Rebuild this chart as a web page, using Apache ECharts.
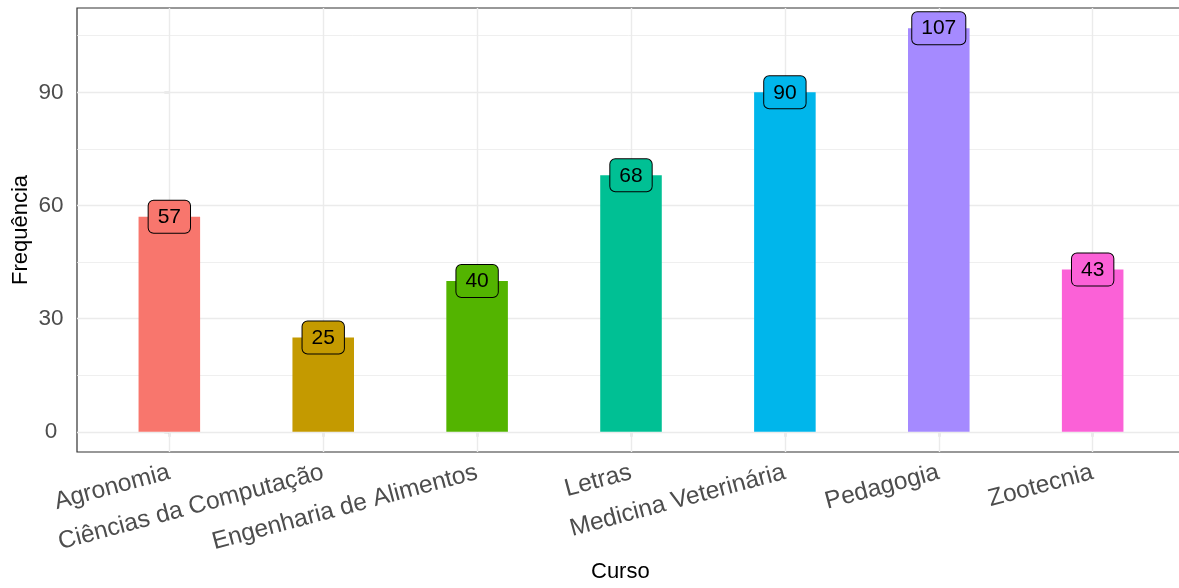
<!DOCTYPE html>
<html>
<head>
<meta charset="utf-8">
<script src="https://cdn.jsdelivr.net/npm/echarts@6/dist/echarts.min.js"></script>
<style>html,body{margin:0;padding:0;background:#fff}#c{width:1179px;height:588px}</style>
</head>
<body>
<div id="c"></div>
<script>
const categories = ['Agronomia','Ciências da Computação','Engenharia de Alimentos','Letras','Medicina Veterinária','Pedagogia','Zootecnia'];
const frequencies = [57, 25, 40, 68, 90, 107, 43];
const barColors = ['#F8766D','#C49A00','#53B400','#00C094','#00B6EB','#A58AFF','#FB61D7'];
const yTicks = [0, 30, 60, 90];
const yMinor = [15, 45, 75, 105];
const xTitle = 'Curso';
const yTitle = 'Frequência';

const FONT = "'Liberation Sans', Arial, Helvetica, sans-serif";
const G = {left: 77, top: 8, width: 1108, height: 444};
const xMin = -0.6, xMax = categories.length - 1 + 0.6;
const unitPx = G.width / (xMax - xMin);
const yMin = -0.05 * 107, yMax = 107 * 1.05;

const catIdx = categories.map((c, i) => i);

const chart = echarts.init(document.getElementById('c'), null, {renderer: 'canvas'});
chart.setOption({
  animation: false,
  backgroundColor: '#fff',
  textStyle: {fontFamily: FONT},
  grid: Object.assign({show: true, borderColor: '#333', borderWidth: 1.2, backgroundColor: '#fff', containLabel: false, outerBoundsMode: 'none'}, G),
  xAxis: {
    type: 'value', min: xMin, max: xMax,
    axisLine: {show: false},
    splitLine: {show: false},
    axisTick: {show: true, length: 5, customValues: catIdx, lineStyle: {color: '#333', width: 1.2}},
    axisLabel: {
      customValues: catIdx, rotate: 15, margin: 20, fontSize: 24.5, color: '#4D4D4D', fontFamily: FONT,
      formatter: v => { const r = Math.round(v); return (Math.abs(v - r) < 1e-6 && r >= 0 && r < categories.length) ? categories[r] : ''; }
    }
  },
  yAxis: {
    type: 'value', min: yMin, max: yMax,
    axisLine: {show: false},
    splitLine: {show: false},
    axisTick: {show: true, length: 5, customValues: yTicks, lineStyle: {color: '#333', width: 1.2}},
    axisLabel: {
      customValues: yTicks, margin: 26, align: 'center', fontSize: 22.5, color: '#4D4D4D', fontFamily: FONT,
      formatter: v => (yTicks.indexOf(Math.round(v)) >= 0 && Math.abs(v - Math.round(v)) < 1e-6) ? String(Math.round(v)) : ''
    }
  },
  graphic: [
    {type: 'text', left: 631 - 40, top: 561, style: {text: xTitle, font: '22px ' + FONT, fill: '#000'}, z: 10},
    {type: 'text', x: 10, y: 230, rotation: Math.PI / 2, style: {text: yTitle, font: '22px ' + FONT, fill: '#000', textAlign: 'center', textVerticalAlign: 'top'}, z: 10}
  ],
  series: [
    {
      type: 'line', data: [], z: 1, silent: true,
      markLine: {
        silent: true, symbol: 'none', z: 1, animation: false,
        label: {show: false},
        data: [
          ...yMinor.map(v => ({yAxis: v, lineStyle: {color: '#EBEBEB', width: 0.8, type: 'solid'}})),
          ...yTicks.map(v => ({yAxis: v, lineStyle: {color: '#EBEBEB', width: 1.4, type: 'solid'}})),
          ...catIdx.map(v => ({xAxis: v, lineStyle: {color: '#EBEBEB', width: 1.4, type: 'solid'}}))
        ]
      }
    },
    {
      type: 'bar', z: 2, barWidth: 0.4 * unitPx,
      data: frequencies.map((v, i) => ({
        value: [i, v],
        itemStyle: {color: barColors[i]},
        label: {backgroundColor: barColors[i]}
      })),
      label: {
        show: true, position: 'top', distance: -16,
        formatter: p => String(p.value[1]),
        fontSize: 21, color: '#000', fontFamily: FONT,
        borderColor: '#000', borderWidth: 1, borderRadius: 5,
        padding: [5, 9, 4, 9], lineHeight: 23
      }
    }
  ]
});
</script>
</body>
</html>
